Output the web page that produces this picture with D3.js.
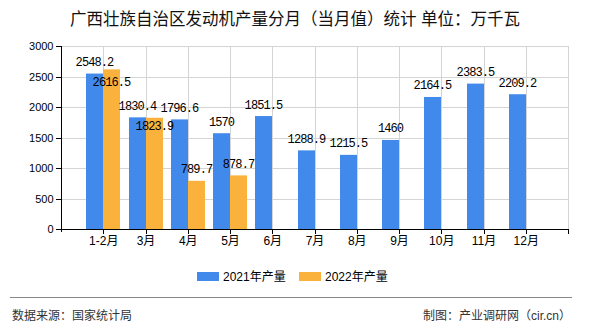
<!DOCTYPE html>
<html><head><meta charset="utf-8">
<script src="https://cdn.jsdelivr.net/npm/d3@7"></script>
<style>body{margin:0;background:#fff;} svg{display:block;}</style>
</head><body>
<svg id="chart" width="590" height="330"></svg>
<script>
const title = "广西壮族自治区发动机产量分月（当月值）统计 单位：万千瓦";
const categories = ["1-2月","3月","4月","5月","6月","7月","8月","9月","10月","11月","12月"];
const values2021 = [2548.2,1830.4,1796.6,1570,1851.5,1288.9,1215.5,1460,2164.5,2383.5,2209.2];
const values2022 = [2616.5,1823.9,789.7,878.7,null,null,null,null,null,null,null];
const seriesNames = ["2021年产量","2022年产量"];
const seriesColors = ["#4189EB","#FBB23D"];
const yTicks = [0,500,1000,1500,2000,2500,3000];
const sourceText = "数据来源：国家统计局";
const creditText = "制图：产业调研网（cir.cn）";

const W = 590, H = 330;
const m = {left:61, right:568, top:46, bottom:229};
const svg = d3.select("#chart");
const sans = "'Liberation Sans','Noto Sans CJK SC',sans-serif";
const mono = "'Liberation Mono','Noto Sans CJK SC',monospace";

const x = d3.scalePoint().domain(categories).range([m.left, m.right]).padding(1);
const y = d3.scaleLinear().domain([0,3000]).range([m.bottom, m.top]);
const step = x.step();
const bw = Math.round(step*0.4);

// title
svg.append("text").attr("x", W/2).attr("y", 25).attr("text-anchor","middle")
  .style("font-family", sans).style("font-size","16.5px").attr("fill","#111").text(title);

// gridlines
const grid = svg.append("g").attr("shape-rendering","crispEdges");
grid.selectAll("line.h").data(yTicks.filter(d=>d>0)).join("line").attr("class","h")
  .attr("x1", m.left).attr("x2", m.right).attr("y1", d=>Math.round(y(d))+0.5).attr("y2", d=>Math.round(y(d))+0.5)
  .attr("stroke","#d4d4d4");
const vx = categories.map(c=>x(c)).concat([m.right]);
grid.selectAll("line.v").data(vx).join("line").attr("class","v")
  .attr("x1", d=>Math.round(d)+0.5).attr("x2", d=>Math.round(d)+0.5).attr("y1", m.top).attr("y2", m.bottom)
  .attr("stroke","#d4d4d4");

// bars
const bars = svg.append("g");
const data = [];
categories.forEach((c,i)=>{
  if (values2021[i]!=null) data.push({c, s:0, v:values2021[i]});
  if (values2022[i]!=null) data.push({c, s:1, v:values2022[i]});
});
bars.selectAll("rect").data(data).join("rect")
  .attr("x", d=> Math.round(x(d.c)) + (d.s===0 ? -bw : 0))
  .attr("width", bw)
  .attr("y", d=> y(d.v))
  .attr("height", d=> y(0)-y(d.v))
  .attr("fill", d=> seriesColors[d.s]);

// axes
const yAxis = d3.axisLeft(y).tickValues(yTicks).tickSize(6).tickPadding(2).tickFormat(d3.format("d"));
const gy = svg.append("g").attr("transform", `translate(${m.left+0.5},0)`).call(yAxis);
gy.select(".domain").attr("d", `M0,${m.top}V${m.bottom+3}`).attr("stroke","#000");
gy.selectAll(".tick line").attr("stroke","#000");
gy.selectAll("text").style("font-family", sans).style("font-size","11px").attr("fill","#000");
gy.attr("shape-rendering","crispEdges");

const xAxis = d3.axisBottom(x).tickSize(4).tickPadding(3);
const gx = svg.append("g").attr("transform", `translate(0,${m.bottom+0.5})`).call(xAxis);
gx.select(".domain").attr("d", `M${m.left},0H${m.right+0.5}`).attr("stroke","#000");
gx.append("line").attr("x1", m.right+0.5).attr("x2", m.right+0.5).attr("y1",0).attr("y2",4).attr("stroke","#000");
gx.selectAll(".tick line").attr("stroke","#000");
gx.selectAll("text").style("font-family", sans).style("font-size","12px").attr("fill","#000");
gx.attr("shape-rendering","crispEdges");

// data labels with simple overlap shifting
const labG = svg.append("g");
const placed = [];
data.forEach(d=>{
  const cx = Math.round(x(d.c)) + (d.s===0 ? -bw/2 : bw/2);
  const t = labG.append("text").attr("x", cx).attr("text-anchor","middle")
    .style("font-family", mono).style("font-size","12px").style("letter-spacing","-0.9px")
    .attr("fill","#000").text(d3.format("")(d.v));
  const w = t.node().getComputedTextLength();
  let cy = y(d.v) - 12;
  let moved = true;
  while (moved) {
    moved = false;
    for (const p of placed) {
      if (Math.abs(p.x - cx) < (p.w + w)/2 && Math.abs(p.y - cy) < 13) {
        cy = p.y + 20; moved = true;
      }
    }
  }
  placed.push({x:cx, y:cy, w});
  t.attr("y", cy + 4.5);
});

// legend
const leg = svg.append("g");
const legX = [197, 299];
seriesNames.forEach((n,i)=>{
  leg.append("rect").attr("x", legX[i]).attr("y", 272).attr("width",22).attr("height",9).attr("fill", seriesColors[i]);
  leg.append("text").attr("x", legX[i]+26).attr("y", 281).style("font-family", sans).style("font-size","12px")
    .attr("fill","#000").text(n);
});

// footer
svg.append("line").attr("x1",10).attr("x2",572).attr("y1",297.5).attr("y2",297.5).attr("stroke","#888");
svg.append("text").attr("x",12).attr("y",320).style("font-family", sans).style("font-size","12px").attr("fill","#333").text(sourceText);
svg.append("text").attr("x",571).attr("y",320).attr("text-anchor","end").style("font-family", sans).style("font-size","12px").attr("fill","#333").text(creditText);
</script>
</body></html>
